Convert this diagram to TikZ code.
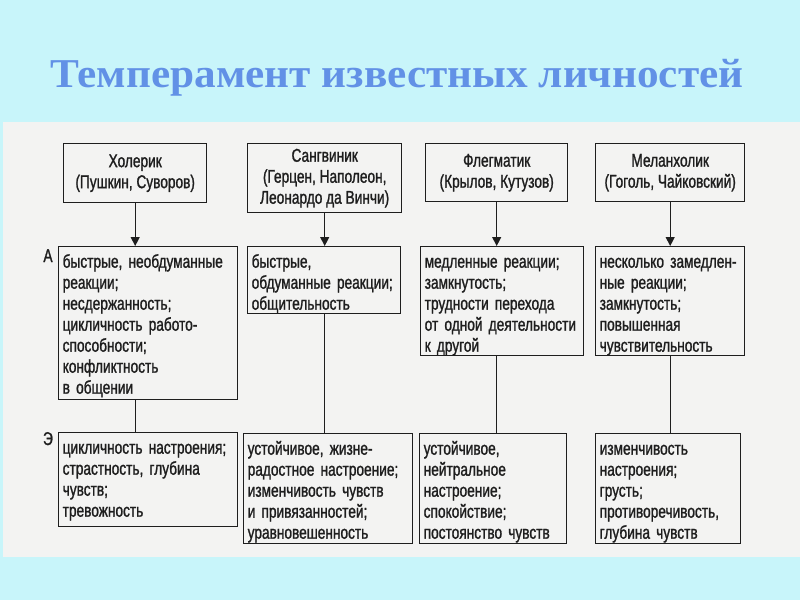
\documentclass[tikz,border=0pt]{standalone}
\usepackage{fontspec}
\setmainfont{Liberation Sans}[FakeStretch=0.74, FakeBold=1.2]
\newfontfamily\titlefont{Liberation Serif}[FakeStretch=1.055]
\usetikzlibrary{arrows.meta}
\definecolor{sky}{RGB}{200,245,250}
\definecolor{paper}{RGB}{243,243,242}
\definecolor{ink}{RGB}{30,30,30}
\definecolor{titleblue}{RGB}{98,145,230}
\tikzset{
  head/.style={draw=ink, line width=1.4pt, align=center, anchor=north west, inner sep=0pt},
  cell/.style={draw=ink, line width=1.4pt, text width=#1, align=left, anchor=north west, inner xsep=4pt, inner ysep=0pt, text height=21pt},
  arr/.style={ink, line width=1.2pt, -{Triangle[width=9pt,length=9pt]}},
  link/.style={ink, line width=1.2pt}
}
\begin{document}
\begin{tikzpicture}[x=1pt, y=-1pt, font=\fontsize{18.5}{21}\selectfont, text=ink]
\fill[sky] (0,0) rectangle (800,600);
\fill[paper] (3,122) rectangle (800,557);
\useasboundingbox (0,0) rectangle (800,600);
\node[text=titleblue, font=\titlefont\bfseries\fontsize{41}{41}\selectfont, anchor=base] (title) at (397,87){Темперамент известных личностей};

\node[head, minimum width=143pt, minimum height=59pt] (t0) at (63,143){Холерик\\(Пушкин, Суворов)};
\node[head, minimum width=154pt, minimum height=69pt] (t1) at (247,143){Сангвиник\\(Герцен, Наполеон,\\Леонардо да Винчи)};
\node[head, minimum width=142pt, minimum height=58pt] (t2) at (425,143){Флегматик\\(Крылов, Кутузов)};
\node[head, minimum width=149pt, minimum height=58pt] (t3) at (595,143){Меланхолик\\(Гоголь, Чайковский)};

\node[cell=170.5pt, text depth=132pt] (a0) at (58,246){быстрые, необдуманные\\реакции;\\несдержанность;\\цикличность работо-\\способности;\\конфликтность\\в общении};
\node[cell=145pt, text depth=45.7pt] (a1) at (247,246){быстрые,\\обдуманные реакции;\\общительность};
\node[cell=154.7pt, text depth=88pt] (a2) at (420,246){медленные реакции;\\замкнутость;\\трудности перехода\\от одной деятельности\\к другой};
\node[cell=141pt, text depth=88pt] (a3) at (595,246){несколько замедлен-\\ные реакции;\\замкнутость;\\повышенная\\чувствительность};

\node[cell=170.5pt, text depth=72.5pt] (e0) at (58,432){цикличность настроения;\\страстность, глубина\\чувств;\\тревожность};
\node[cell=160.7pt, text depth=89pt] (e1) at (243,433){устойчивое, жизне-\\радостное настроение;\\изменчивость чувств\\и привязанностей;\\уравновешенность};
\node[cell=138.5pt, text depth=89pt] (e2) at (419,433){устойчивое,\\нейтральное\\настроение;\\спокойствие;\\постоянство чувств};
\node[cell=137pt, text depth=89pt] (e3) at (595,433){изменчивость\\настроения;\\грусть;\\противоречивость,\\глубина чувств};

\node[anchor=base] (la) at (48,262){А};
\node[anchor=base] (le) at (48,445){Э};

\draw[arr](t0) -- (t0 |- a0.north);
\draw[arr](t1) -- (t1 |- a1.north);
\draw[arr](t2) -- (t2 |- a2.north);
\draw[arr](t3) -- (t3 |- a3.north);
\draw[link](t0 |- a0.south) -- (t0 |- e0.north);
\draw[link](t1 |- a1.south) -- (t1 |- e1.north);
\draw[link](t2 |- a2.south) -- (t2 |- e2.north);
\draw[link](t3 |- a3.south) -- (t3 |- e3.north);

\end{tikzpicture}
\end{document}
